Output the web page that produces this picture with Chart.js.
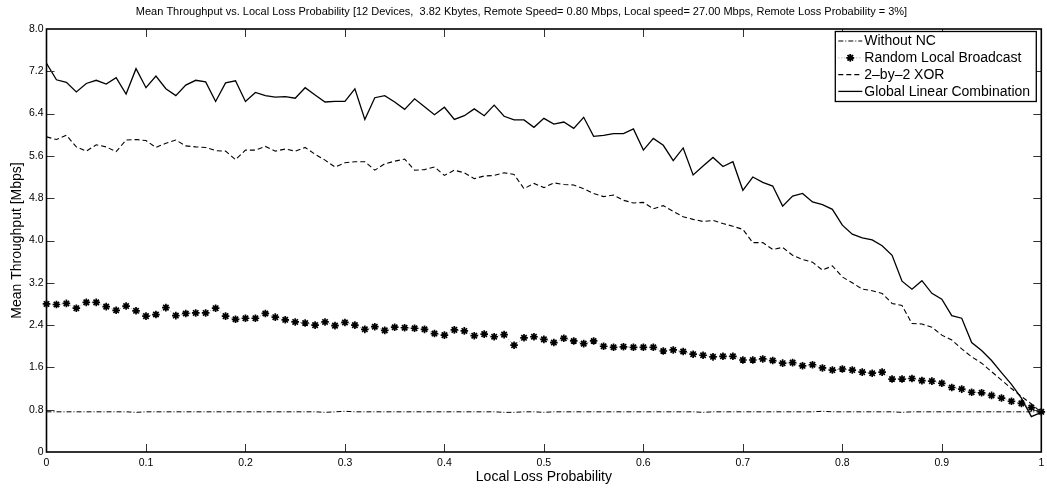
<!DOCTYPE html>
<html>
<head>
<meta charset="utf-8">
<title>Mean Throughput vs. Local Loss Probability</title>
<script src="https://cdn.jsdelivr.net/npm/chart.js@4/dist/chart.umd.min.js"></script>
<style>
  body { margin: 0; background: #fff; }
  #wrap { width: 1047px; height: 490px; }
</style>
</head>
<body>
<div id="wrap"><canvas id="tputChart"></canvas></div>
<script>
// local loss probability (x)
const lossProb = [
  0.00, 0.01, 0.02, 0.03, 0.04, 0.05, 0.06, 0.07, 0.08, 0.09,
  0.10, 0.11, 0.12, 0.13, 0.14, 0.15, 0.16, 0.17, 0.18, 0.19,
  0.20, 0.21, 0.22, 0.23, 0.24, 0.25, 0.26, 0.27, 0.28, 0.29,
  0.30, 0.31, 0.32, 0.33, 0.34, 0.35, 0.36, 0.37, 0.38, 0.39,
  0.40, 0.41, 0.42, 0.43, 0.44, 0.45, 0.46, 0.47, 0.48, 0.49,
  0.50, 0.51, 0.52, 0.53, 0.54, 0.55, 0.56, 0.57, 0.58, 0.59,
  0.60, 0.61, 0.62, 0.63, 0.64, 0.65, 0.66, 0.67, 0.68, 0.69,
  0.70, 0.71, 0.72, 0.73, 0.74, 0.75, 0.76, 0.77, 0.78, 0.79,
  0.80, 0.81, 0.82, 0.83, 0.84, 0.85, 0.86, 0.87, 0.88, 0.89,
  0.90, 0.91, 0.92, 0.93, 0.94, 0.95, 0.96, 0.97, 0.98, 0.99,
  1.00
];

// mean throughput [Mbps]
const withoutNC = [
  0.76, 0.76, 0.76, 0.76, 0.76, 0.76, 0.76, 0.76, 0.76, 0.75,
  0.76, 0.76, 0.76, 0.76, 0.76, 0.76, 0.76, 0.76, 0.76, 0.76,
  0.76, 0.76, 0.76, 0.76, 0.76, 0.76, 0.76, 0.76, 0.75, 0.76,
  0.77, 0.76, 0.76, 0.76, 0.76, 0.76, 0.76, 0.76, 0.76, 0.76,
  0.76, 0.76, 0.76, 0.76, 0.76, 0.76, 0.75, 0.75, 0.76, 0.76,
  0.75, 0.76, 0.76, 0.76, 0.76, 0.76, 0.76, 0.76, 0.76, 0.76,
  0.76, 0.76, 0.76, 0.76, 0.76, 0.76, 0.75, 0.76, 0.76, 0.76,
  0.76, 0.76, 0.76, 0.76, 0.76, 0.76, 0.76, 0.76, 0.77, 0.76,
  0.76, 0.76, 0.76, 0.76, 0.76, 0.76, 0.75, 0.76, 0.76, 0.76,
  0.76, 0.76, 0.76, 0.76, 0.76, 0.76, 0.76, 0.76, 0.76, 0.76,
  0.76
];

const randomLocal = [
  2.80, 2.79, 2.81, 2.72, 2.83, 2.83, 2.75, 2.68, 2.76, 2.67,
  2.57, 2.60, 2.73, 2.58, 2.62, 2.63, 2.63, 2.72, 2.57, 2.51,
  2.53, 2.53, 2.62, 2.55, 2.50, 2.46, 2.44, 2.40, 2.46, 2.39,
  2.45, 2.40, 2.32, 2.37, 2.30, 2.36, 2.35, 2.34, 2.32, 2.24,
  2.21, 2.31, 2.29, 2.20, 2.23, 2.18, 2.22, 2.02, 2.16, 2.18,
  2.13, 2.07, 2.15, 2.10, 2.05, 2.10, 2.00, 1.98, 1.99, 1.98,
  1.98, 1.98, 1.91, 1.93, 1.90, 1.85, 1.83, 1.80, 1.81, 1.81,
  1.74, 1.74, 1.76, 1.73, 1.68, 1.69, 1.63, 1.65, 1.59, 1.55,
  1.57, 1.55, 1.51, 1.49, 1.51, 1.38, 1.38, 1.39, 1.35, 1.34,
  1.30, 1.22, 1.19, 1.13, 1.12, 1.07, 1.02, 0.96, 0.92, 0.84,
  0.76
];

const xor2by2 = [
  5.96, 5.91, 5.99, 5.77, 5.69, 5.81, 5.77, 5.68, 5.90, 5.91,
  5.89, 5.76, 5.84, 5.90, 5.79, 5.77, 5.76, 5.70, 5.69, 5.53,
  5.71, 5.71, 5.78, 5.69, 5.73, 5.69, 5.76, 5.63, 5.52, 5.39,
  5.47, 5.49, 5.49, 5.33, 5.45, 5.50, 5.54, 5.33, 5.34, 5.39,
  5.23, 5.33, 5.28, 5.17, 5.22, 5.23, 5.28, 5.25, 4.98, 5.08,
  5.00, 5.09, 5.06, 5.05, 4.98, 4.89, 4.83, 4.86, 4.76, 4.71,
  4.72, 4.60, 4.66, 4.55, 4.45, 4.40, 4.36, 4.38, 4.32, 4.27,
  4.21, 3.96, 3.96, 3.83, 3.87, 3.72, 3.64, 3.59, 3.44, 3.52,
  3.31, 3.20, 3.08, 3.05, 3.00, 2.81, 2.77, 2.43, 2.42, 2.36,
  2.21, 2.12, 1.95, 1.80, 1.68, 1.52, 1.36, 1.20, 1.05, 0.91,
  0.75
];

const globalLinear = [
  7.35, 7.04, 6.99, 6.81, 6.97, 7.03, 6.96, 7.08, 6.77, 7.25,
  6.89, 7.11, 6.87, 6.74, 6.94, 7.03, 7.00, 6.63, 6.98, 7.02,
  6.63, 6.80, 6.74, 6.71, 6.72, 6.69, 6.89, 6.75, 6.62, 6.63,
  6.63, 6.87, 6.29, 6.70, 6.74, 6.62, 6.48, 6.68, 6.53, 6.38,
  6.52, 6.29, 6.36, 6.49, 6.36, 6.56, 6.35, 6.28, 6.28, 6.14,
  6.31, 6.20, 6.24, 6.12, 6.33, 5.97, 5.99, 6.02, 6.02, 6.11,
  5.71, 5.93, 5.80, 5.51, 5.75, 5.24, 5.41, 5.57, 5.40, 5.49,
  4.95, 5.20, 5.10, 5.03, 4.65, 4.84, 4.89, 4.73, 4.68, 4.59,
  4.29, 4.12, 4.05, 4.01, 3.90, 3.72, 3.23, 3.08, 3.24, 3.00,
  2.89, 2.58, 2.53, 2.07, 1.92, 1.73, 1.50, 1.28, 1.02, 0.67,
  0.75
];

const seriesNames = ['Without NC', 'Random Local Broadcast', '2\u2013by\u20132 XOR', 'Global Linear Combination'];

const xTicks = [0, 0.1, 0.2, 0.3, 0.4, 0.5, 0.6, 0.7, 0.8, 0.9, 1];
const yTicks = [0, 0.8, 1.6, 2.4, 3.2, 4.0, 4.8, 5.6, 6.4, 7.2, 8.0];

Chart.defaults.font.family = '"Liberation Sans", Arial, Helvetica, sans-serif';
Chart.defaults.color = '#000';

function toPoints(vals) {
  return vals.map((v, i) => ({ x: lossProb[i], y: v }));
}

// box round the plot with inward tick marks on all four sides (matlab look)
const axesBox = {
  id: 'axesBox',
  afterDatasetsDraw(chart) {
    const { ctx, chartArea: a, scales } = chart;
    const len = 8;
    ctx.save();
    ctx.strokeStyle = '#333';
    ctx.lineWidth = 1;
    ctx.beginPath();
    xTicks.slice(1, -1).forEach((v) => {
      const px = Math.round(scales.x.getPixelForValue(v)) + 0.5;
      ctx.moveTo(px, a.bottom); ctx.lineTo(px, a.bottom - len);
      ctx.moveTo(px, a.top); ctx.lineTo(px, a.top + len);
    });
    yTicks.slice(1, -1).forEach((v) => {
      const py = Math.round(scales.y.getPixelForValue(v)) + 0.5;
      ctx.moveTo(a.left, py); ctx.lineTo(a.left + len, py);
      ctx.moveTo(a.right, py); ctx.lineTo(a.right - len, py);
    });
    ctx.stroke();
    ctx.strokeStyle = '#000';
    ctx.lineWidth = 1.6;
    ctx.strokeRect(a.left, a.top, a.right - a.left, a.bottom - a.top);
    ctx.restore();
  }
};

// legend box in the upper right corner
const boxLegend = {
  id: 'boxLegend',
  afterDraw(chart) {
    const { ctx, chartArea: a } = chart;
    const w = 201, h = 70;
    const left = a.right - 5 - w, top = a.top + 2.5;
    ctx.save();
    ctx.fillStyle = '#fff';
    ctx.fillRect(left, top, w, h);
    ctx.strokeStyle = '#000';
    ctx.lineWidth = 1.3;
    ctx.strokeRect(left, top, w, h);
    ctx.font = '14px "Liberation Sans", Arial, sans-serif';
    ctx.textBaseline = 'middle';
    chart.data.datasets.forEach((ds, i) => {
      const y = top + 9.5 + i * 16.8;
      const x0 = left + 3, x1 = left + 27;
      ctx.save();
      ctx.strokeStyle = ds.borderColor;
      ctx.lineWidth = ds.borderWidth;
      ctx.setLineDash(ds.borderDash || []);
      ctx.beginPath();
      ctx.moveTo(x0, y); ctx.lineTo(x1, y);
      ctx.stroke();
      ctx.restore();
      if (ds.pointRadius > 0) {
        Chart.helpers.drawPoint(ctx, {
          pointStyle: ds.pointStyle, radius: ds.pointRadius,
          rotation: 0, borderWidth: ds.pointBorderWidth
        }, (x0 + x1) / 2, y);
        ctx.strokeStyle = ds.pointBorderColor;
        ctx.lineWidth = ds.pointBorderWidth;
        ctx.stroke();
      }
      ctx.fillStyle = '#000';
      ctx.fillText(ds.label, x1 + 2, y + 0.5);
    });
    ctx.restore();
  }
};

const tputCtx = document.getElementById('tputChart');

const tputChart = new Chart(tputCtx, {
  type: 'line',
  data: {
    datasets: [
      {
        label: seriesNames[0],
        data: toPoints(withoutNC),
        borderColor: '#000',
        borderWidth: 1,
        borderDash: [5, 2, 1, 2],
        pointRadius: 0
      },
      {
        label: seriesNames[1],
        data: toPoints(randomLocal),
        borderColor: '#888',
        borderWidth: 0.8,
        borderDash: [1, 2],
        pointStyle: 'star',
        pointRadius: 3.8,
        pointBorderWidth: 1.7,
        pointBorderColor: '#000',
        pointBackgroundColor: '#000',
        clip: false
      },
      {
        label: seriesNames[2],
        data: toPoints(xor2by2),
        borderColor: '#000',
        borderWidth: 1.1,
        borderDash: [5, 3],
        pointRadius: 0
      },
      {
        label: seriesNames[3],
        data: toPoints(globalLinear),
        borderColor: '#000',
        borderWidth: 1.3,
        pointRadius: 0
      }
    ]
  },
  options: {
    responsive: true,
    maintainAspectRatio: false,
    animation: false,
    layout: { padding: { left: 0, right: 4, top: 0, bottom: 0 } },
    elements: { line: { tension: 0 } },
    plugins: {
      legend: { display: false },
      tooltip: { enabled: false },
      title: {
        display: true,
        text: 'Mean Throughput vs. Local Loss Probability [12 Devices,  3.82 Kbytes, Remote Speed= 0.80 Mbps, Local speed= 27.00 Mbps, Remote Loss Probability = 3%]',
        font: { size: 11, weight: 'normal' },
        color: '#000',
        padding: { top: 5, bottom: 10.8 }
      }
    },
    scales: {
      x: {
        type: 'linear',
        min: 0,
        max: 1,
        afterBuildTicks: (scale) => { scale.ticks = xTicks.map((v) => ({ value: v })); },
        afterFit: (scale) => {
          scale.height = 38;
          scale.paddingLeft = 0;
          scale.paddingRight = 4;
        },
        grid: { display: false, drawTicks: false },
        border: { display: false },
        ticks: {
          padding: 5,
          maxRotation: 0,
          font: { size: 10.5 },
          callback: (v) => String(v)
        },
        title: {
          display: true,
          text: 'Local Loss Probability',
          font: { size: 14 },
          padding: { top: 0, bottom: 4.5 }
        }
      },
      y: {
        min: 0,
        max: 8,
        afterBuildTicks: (scale) => { scale.ticks = yTicks.map((v) => ({ value: v })); },
        afterFit: (scale) => { scale.width = 46.5; },
        grid: { display: false, drawTicks: false },
        border: { display: false },
        ticks: {
          padding: 3,
          font: { size: 10.5 },
          callback: (v) => (v === 0 ? '0' : v.toFixed(1))
        },
        title: {
          display: true,
          text: 'Mean Throughput [Mbps]',
          font: { size: 14 },
          padding: { top: 9, bottom: 0 }
        }
      }
    }
  },
  plugins: [axesBox, boxLegend]
});
</script>
</body>
</html>
